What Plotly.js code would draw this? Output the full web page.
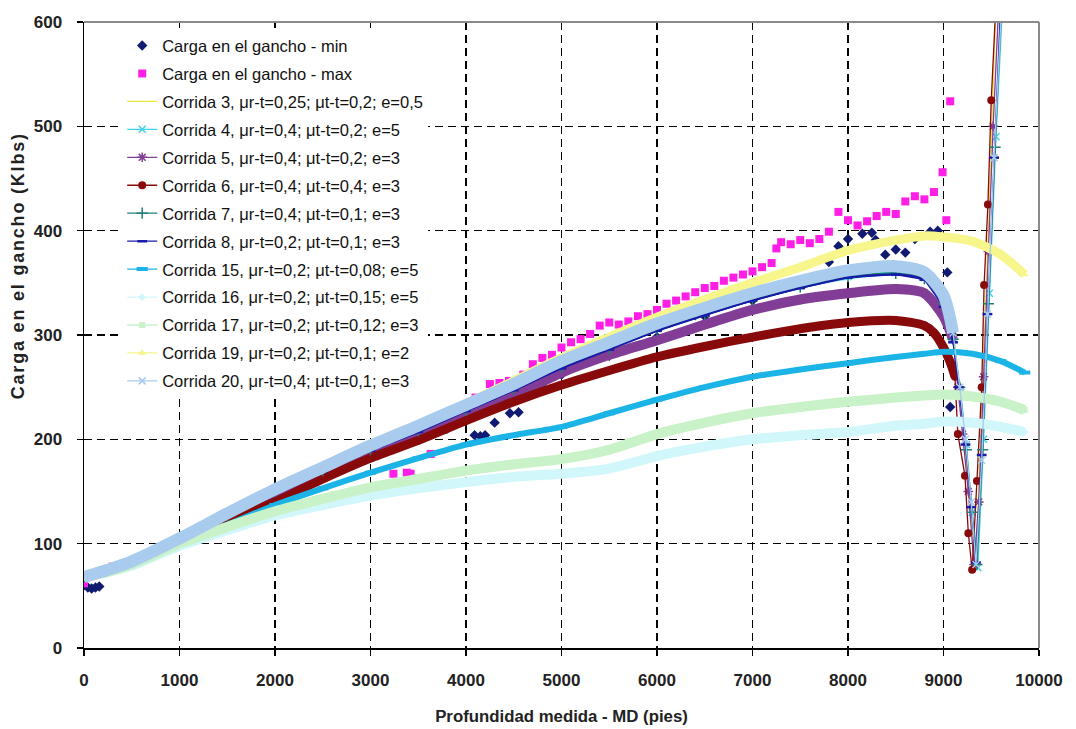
<!DOCTYPE html>
<html><head><meta charset="utf-8">
<script src="https://cdn.plot.ly/plotly-3.0.1.min.js"></script>
<style>html,body{margin:0;padding:0;background:#fff}#chart{width:1076px;height:729px}
.annotation-text{letter-spacing:1.8px}</style>
</head><body><div id="chart"></div>
<script>
// ---- data (measured depth in ft, hook load in klbs) ----
const mdMain = [0,250,500,1000,1500,2000,2500,3000,3500,4000,4500,5000,5500,6000,6500,7000,7500,8000,8500,8800];

const minMd   = [0,40,80,120,160,500,1000,1500,2000,2500,3000,3500,3800,4090,4150,4200,4300,4460,4550,4700,4800,5000,5500,6000,6400,6500,7000,7500,7800,7900,8000,8150,8250,8290,8390,8500,8600,8700,8860,8940,9040,9070];
const minLoad = [60,58,57,58,59,80,102,125,148,168,188,205,210,204,203,204,216,225,226,247,250,262,280,298,319,318,333,348,370,385,392,397,398,391,377,382,379,392,399,400,360,231];

const maxMd   = [0,20,300,700,1000,1500,2000,2500,3000,3240,3380,3420,3630,3900,4100,4250,4350,4450,4600,4700,4800,4900,5000,5100,5200,5300,5400,5500,5600,5700,5800,5900,6000,6100,6200,6300,6400,6500,6600,6700,6800,6900,7000,7100,7200,7250,7300,7400,7500,7600,7700,7800,7900,8000,8100,8200,8300,8400,8500,8600,8700,8800,8900,8990,9030,9070];
const maxLoad = [62,70,78,90,102,125,148,170,187,167,168,167,186,215,240,253,254,256,262,272,278,281,288,293,296,301,309,312,310,313,318,320,324,330,333,337,341,345,347,352,355,358,361,365,369,383,389,387,391,388,392,399,418,410,405,409,414,418,416,428,433,430,437,456,410,524];

const c3Load = [68,75,83,105,129,152,173,194,213,233,253,274,292,310,325,339,351,361,365,362];
const c3TailMd = [9000,9100,9200,9300,9340,9400,9470,9550];
const c3TailLoad = [345,310,220,110,85,230,400,620];

const c4Load = [68,75,82,103,127,150,170,190,209,229,249,270,288,306,321,335,347,356,360,355];
const c4TailMd = [9000,9100,9180,9240,9300,9360,9420,9480,9550,9620];
const c4TailLoad = [335,298,245,195,130,77,200,340,490,620];

const c5Load = [68,74,81,103,125,146,167,188,204,222,242,264,281,295,310,324,334,340,344,340];
const c5TailMd = [9000,9100,9150,9200,9260,9320,9370,9420,9470,9520,9580];
const c5TailLoad = [318,296,250,205,150,80,140,260,380,500,620];

const c6Load = [68,74,81,102,122,140,162,182,199,218,236,252,266,279,289,298,306,312,314,309];
const c6TailMd = [8900,9000,9070,9120,9150,9225,9260,9300,9350,9400,9425,9465,9500,9550];
const c6TailLoad = [302,288,274,260,205,165,110,75,160,250,348,425,525,620];

const c7Load = [68,75,82,103,127,150,170,190,208,228,248,269,287,305,320,334,346,356,359,354];
const c7TailMd = [9000,9100,9170,9240,9300,9350,9410,9470,9540,9610];
const c7TailLoad = [330,296,250,190,130,80,190,330,480,620];

const c8Load = [68,74,82,103,126,149,169,189,207,227,247,268,286,304,319,333,345,355,358,353];
const c8TailMd = [9000,9100,9160,9230,9290,9340,9400,9460,9530,9600];
const c8TailLoad = [327,293,250,195,135,82,185,320,470,620];

const c15Load = [68,74,80,100,118,137,153,168,182,195,204,212,225,238,250,260,267,273,279,282];
const c15TailMd = [9000,9300,9600,9850];
const c15TailLoad = [284,282,275,264];

const c16Load = [68,73,79,98,113,127,137,146,153,159,164,167,172,184,193,200,204,207,213,215];
const c16TailMd = [9000,9300,9600,9850];
const c16TailLoad = [217,216,212,207];

const c17Load = [68,73,80,100,116,131,143,154,162,170,176,181,190,205,216,225,231,236,240,242];
const c17TailMd = [9000,9300,9600,9850];
const c17TailLoad = [243,241,236,228];

const c19Load = [68,75,83,105,129,152,174,195,214,234,256,278,298,317,334,350,365,381,391,395];
const c19TailMd = [9000,9300,9600,9850];
const c19TailLoad = [394,390,377,358];

const c20Load = [68,75,83,105,129,152,173,194,213,233,253,275,293,311,326,340,352,362,366,360];
const c20TailMd = [9000,9100,9170,9230,9290,9340,9400,9460,9530,9610];
const c20TailLoad = [338,302,250,200,140,80,180,320,470,620];

const seriesNames = [
  'Corrida 3, μr-t=0,25; μt-t=0,2; e=0,5',
  'Corrida 4, μr-t=0,4; μt-t=0,2; e=5',
  'Corrida 5, μr-t=0,4; μt-t=0,2; e=3',
  'Corrida 6, μr-t=0,4; μt-t=0,4; e=3',
  'Corrida 7, μr-t=0,4; μt-t=0,1; e=3',
  'Corrida 8, μr-t=0,2; μt-t=0,1; e=3',
  'Corrida 15, μr-t=0,2; μt-t=0,08; e=5',
  'Corrida 16, μr-t=0,2; μt-t=0,15; e=5',
  'Corrida 17, μr-t=0,2; μt-t=0,12; e=3',
  'Corrida 19, μr-t=0,2; μt-t=0,1; e=2',
  'Corrida 20, μr-t=0,4; μt-t=0,1; e=3'
];
const seriesLoads = [c3Load,c4Load,c5Load,c6Load,c7Load,c8Load,c15Load,c16Load,c17Load,c19Load,c20Load];
const seriesTailMd = [c3TailMd,c4TailMd,c5TailMd,c6TailMd,c7TailMd,c8TailMd,c15TailMd,c16TailMd,c17TailMd,c19TailMd,c20TailMd];
const seriesTailLoad = [c3TailLoad,c4TailLoad,c5TailLoad,c6TailLoad,c7TailLoad,c8TailLoad,c15TailLoad,c16TailLoad,c17TailLoad,c19TailLoad,c20TailLoad];

// ---- styles ----
const styles = [
  {color:'#e8e83a', band:0,  bandEnd:0,     symbol:null},
  {color:'#3fd3e3', band:6,  bandEnd:9100,  symbol:'x-thin', msize:7, mline:1.5},
  {color:'#823d96', band:10, bandEnd:9100,  symbol:'asterisk', msize:8, mline:1.5},
  {color:'#880a0a', band:9,  bandEnd:9120,  symbol:'circle', msize:8},
  {color:'#1f7f74', band:2,  bandEnd:9100,  symbol:'cross-thin', msize:8, mline:1.5},
  {color:'#1a1aa8', band:2,  bandEnd:9100,  symbol:'line-ew', msize:7, mline:2.5},
  {color:'#1cb4e6', band:6,  bandEnd:99999, symbol:'line-ew', msize:8, mline:4},
  {color:'#d2f7fb', band:10, bandEnd:99999, symbol:'diamond', msize:6},
  {color:'#c9f2c9', band:10, bandEnd:99999, symbol:'square', msize:6},
  {color:'#f6f68c', band:9,  bandEnd:99999, symbol:'triangle-up', msize:7},
  {color:'#a9cbed', band:12, bandEnd:9100,  symbol:'x-thin', msize:7, mline:1.5}
];

const FONT = '"Liberation Sans", Arial, sans-serif';

const traces = [];
traces.push({type:'scatter', mode:'markers', name:'Carga en el gancho - min', legendgroup:'min',
  x:minMd, y:minLoad, marker:{symbol:'diamond', size:8, color:'#101a70'}});
traces.push({type:'scatter', mode:'markers', name:'Carga en el gancho - max', legendgroup:'max',
  x:maxMd, y:maxLoad, marker:{symbol:'square', size:8, color:'#ff1ee6'}});

seriesNames.forEach((name, k) => {
  const st = styles[k];
  const md = mdMain.concat(seriesTailMd[k]);
  const load = seriesLoads[k].concat(seriesTailLoad[k]);
  if (st.band) {
    const bx = [], by = [];
    md.forEach((v, i) => { if (v <= st.bandEnd) { bx.push(v); by.push(load[i]); } });
    traces.push({type:'scatter', mode:'lines', x:bx, y:by, legendgroup:name, showlegend:false, hoverinfo:'skip',
      line:{color:st.color, width:st.band, shape:'spline', smoothing:0.7}});
  }
  const tr = {type:'scatter', mode: st.symbol ? 'lines+markers' : 'lines', name:name, legendgroup:name,
    x:md, y:load, line:{color:st.color, width:1.3}};
  if (st.symbol) {
    tr.marker = {symbol:st.symbol, size:st.msize, color:st.color,
      line:{color:st.color, width: st.mline || 0}};
  }
  traces.push(tr);
});

const layout = {
  width:1076, height:729,
  margin:{l:84, r:37, t:22, b:81},
  paper_bgcolor:'#fff', plot_bgcolor:'#fff',
  showlegend:true,
  font:{family:FONT, color:'#111'},
  xaxis:{range:[0,10000], dtick:1000, tick0:0, tickformat:'d', showgrid:true, gridcolor:'#000', gridwidth:1.5, griddash:'8px,5px',
    zeroline:false, showline:true, linecolor:'#000', linewidth:1.5, ticks:'outside', ticklen:6, tickwidth:1.5, tickcolor:'#000',
    ticklabelstandoff:10,
    tickfont:{family:FONT, size:17, weight:'bold', color:'#222'},
    title:{text:'Profundidad medida - MD (pies)', font:{family:FONT, size:16.8, weight:'bold', color:'#222'}, standoff:21}},
  yaxis:{range:[0,600], dtick:100, tick0:0, tickformat:'d', showgrid:true, gridcolor:'#000', gridwidth:1.5, griddash:'8px,5px',
    zeroline:false, showline:true, linecolor:'#000', linewidth:1.5, ticks:'outside', ticklen:6, tickwidth:1.5, tickcolor:'#000',
    ticklabelstandoff:11,
    tickfont:{family:FONT, size:17, weight:'bold', color:'#222'}},
  legend:{x:0.04, y:0.99, xanchor:'left', yanchor:'top', bgcolor:'#fff', borderwidth:0,
    font:{family:FONT, size:16.5, color:'#111'}, tracegroupgap:3.5, itemwidth:30},
  shapes:[
    {type:'line', xref:'paper', yref:'paper', x0:0, x1:1, y0:1, y1:1, line:{color:'#8a8a8a', width:2}, layer:'above'},
    {type:'line', xref:'paper', yref:'paper', x0:1, x1:1, y0:0, y1:1, line:{color:'#8a8a8a', width:2}, layer:'above'}
  ],
  annotations:[
    {text:'Carga en el gancho (Klbs)', xref:'paper', yref:'paper', x:-0.069, y:0.61, xanchor:'center', yanchor:'middle',
      textangle:-90, showarrow:false, font:{family:FONT, size:18, weight:'bold', color:'#222'}}
  ]
};

Plotly.newPlot('chart', traces, layout, {displayModeBar:false, staticPlot:true});
</script></body></html>
